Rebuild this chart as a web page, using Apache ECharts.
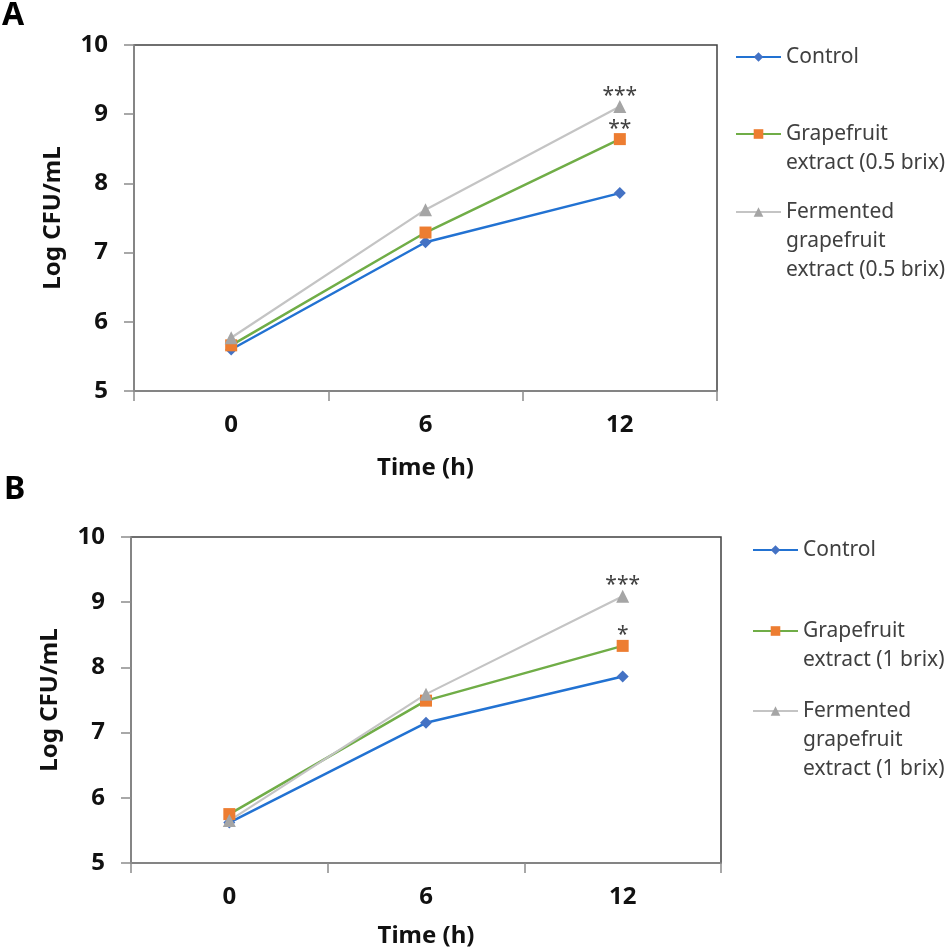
<!DOCTYPE html>
<html>
<head>
<meta charset="utf-8">
<script src="https://cdn.jsdelivr.net/npm/echarts@6/dist/echarts.min.js"></script>
<style>html,body{margin:0;padding:0;background:#fff}#c{width:950px;height:949px}</style>
</head>
<body>
<div id="c"></div>
<script>
// ---- data ----
var timeLabels = ['0', '6', '12'];
var yTicks = [5, 6, 7, 8, 9, 10];

var namesA = ['Control', 'Grapefruit\nextract (0.5 brix)', 'Fermented\ngrapefruit\nextract (0.5 brix)'];
var controlA = [5.60, 7.15, 7.86];
var grapeA = [5.66, 7.29, 8.64];
var fermA = [5.77, 7.62, 9.11];
var sigGrapeA = ['', '', '**'];
var sigFermA = ['', '', '***'];

var namesB = ['Control', 'Grapefruit\nextract (1 brix)', 'Fermented\ngrapefruit\nextract (1 brix)'];
var controlB = [5.62, 7.15, 7.86];
var grapeB = [5.75, 7.49, 8.33];
var fermB = [5.65, 7.59, 9.09];
var sigGrapeB = ['', '', '*'];
var sigFermB = ['', '', '***'];

// ---- chart ----
var FONT = 'Noto Sans';
var chart = echarts.init(document.getElementById('c'), null, {renderer: 'canvas'});

function withSig(vals, sig) {
  return vals.map(function (v, i) {
    return sig[i] ? {value: v, label: {show: true, formatter: sig[i]}} : v;
  });
}

var styles = [
  {line: '#2272d2', marker: '#4472c4', symbol: 'diamond', size: 12, width: 2.5},
  {line: '#70ad47', marker: '#ed7d31', symbol: 'rect', size: 12, width: 2.5},
  {line: '#c4c4c4', marker: '#a5a5a5', symbol: 'triangle', size: 13, width: 2.2}
];

function mkSeries(name, vals, sig, st, idx) {
  return {
    type: 'line', name: name, xAxisIndex: idx, yAxisIndex: idx,
    data: withSig(vals, sig),
    symbol: st.symbol, symbolSize: st.size,
    lineStyle: {color: st.line, width: st.width},
    itemStyle: {color: st.marker, borderWidth: 0},
    label: {show: false, position: 'top', distance: 3, offset: [0, 9], color: '#404040', fontSize: 21, fontFamily: FONT},
    emphasis: {disabled: true},
    animation: false, z: 5
  };
}

var grids = [
  {left: 134, top: 45, width: 583, height: 346},
  {left: 131, top: 537, width: 590, height: 327}
];

function xAx(i, gap) {
  return {
    type: 'category', gridIndex: i, data: timeLabels, boundaryGap: true,
    axisLine: {show: true, lineStyle: {color: '#8c8c8c', width: 1.5}},
    axisTick: {show: true, length: 10, lineStyle: {color: '#8c8c8c', width: 1.5}},
    axisLabel: {color: '#111', fontWeight: 'bold', fontSize: 24, fontFamily: FONT, margin: 22},
    name: 'Time (h)', nameLocation: 'middle', nameGap: gap,
    nameTextStyle: {color: '#111', fontWeight: 'bold', fontSize: 24, fontFamily: FONT},
    z: 4
  };
}
function yAx(i) {
  return {
    type: 'value', gridIndex: i, min: 5, max: 10, interval: 1,
    axisLine: {show: true, lineStyle: {color: '#8c8c8c', width: 1.5}},
    axisTick: {show: true, length: 10, lineStyle: {color: '#8c8c8c', width: 1.5}},
    splitLine: {show: false},
    axisLabel: {color: '#111', fontWeight: 'bold', fontSize: 24, fontFamily: FONT, margin: 26,
      formatter: function (v) { return yTicks.indexOf(v) >= 0 ? String(v) : ''; }},
    name: 'Log CFU/mL', nameLocation: 'middle', nameGap: 69, nameRotate: 90,
    nameTextStyle: {color: '#111', fontWeight: 'bold', fontSize: 24, fontFamily: FONT},
    z: 4
  };
}

var LH = 29;
function legendFor(name, left, firstLineCenter) {
  var n = name.split('\n').length;
  var pad = '';
  for (var k = 1; k < n; k++) pad += '\n';
  return {
    data: [name], left: left, top: firstLineCenter - (n - 1) * LH - LH / 2,
    padding: 0, itemWidth: 45, itemHeight: 12, itemGap: 0, selectedMode: false,
    formatter: function (nm) { return pad + nm; },
    textStyle: {color: '#404040', fontSize: 21, fontFamily: FONT, lineHeight: LH}
  };
}

var option = {
  backgroundColor: '#fff',
  animation: false,
  grid: grids.map(function (g) {
    return Object.assign({show: true, borderColor: '#404040', borderWidth: 1.5, backgroundColor: 'transparent'}, g);
  }),
  xAxis: [xAx(0, 65), xAx(1, 61)],
  yAxis: [yAx(0), yAx(1)],
  legend: [
    legendFor(namesA[0], 735, 57),
    legendFor(namesA[1], 735, 134),
    legendFor(namesA[2], 735, 212),
    legendFor(namesB[0], 752, 550),
    legendFor(namesB[1], 752, 631),
    legendFor(namesB[2], 752, 711)
  ],
  graphic: [
    {type: 'text', left: 2, top: 0, style: {text: 'A', font: 'bold 32px "Noto Sans"', fill: '#000'}},
    {type: 'text', left: 4, top: 474, style: {text: 'B', font: 'bold 32px "Noto Sans"', fill: '#000'}}
  ],
  series: [
    mkSeries(namesA[0], controlA, ['', '', ''], styles[0], 0),
    mkSeries(namesA[1], grapeA, sigGrapeA, styles[1], 0),
    mkSeries(namesA[2], fermA, sigFermA, styles[2], 0),
    mkSeries(namesB[0], controlB, ['', '', ''], styles[0], 1),
    mkSeries(namesB[1], grapeB, sigGrapeB, styles[1], 1),
    mkSeries(namesB[2], fermB, sigFermB, styles[2], 1)
  ]
};
chart.setOption(option);
</script>
</body>
</html>
